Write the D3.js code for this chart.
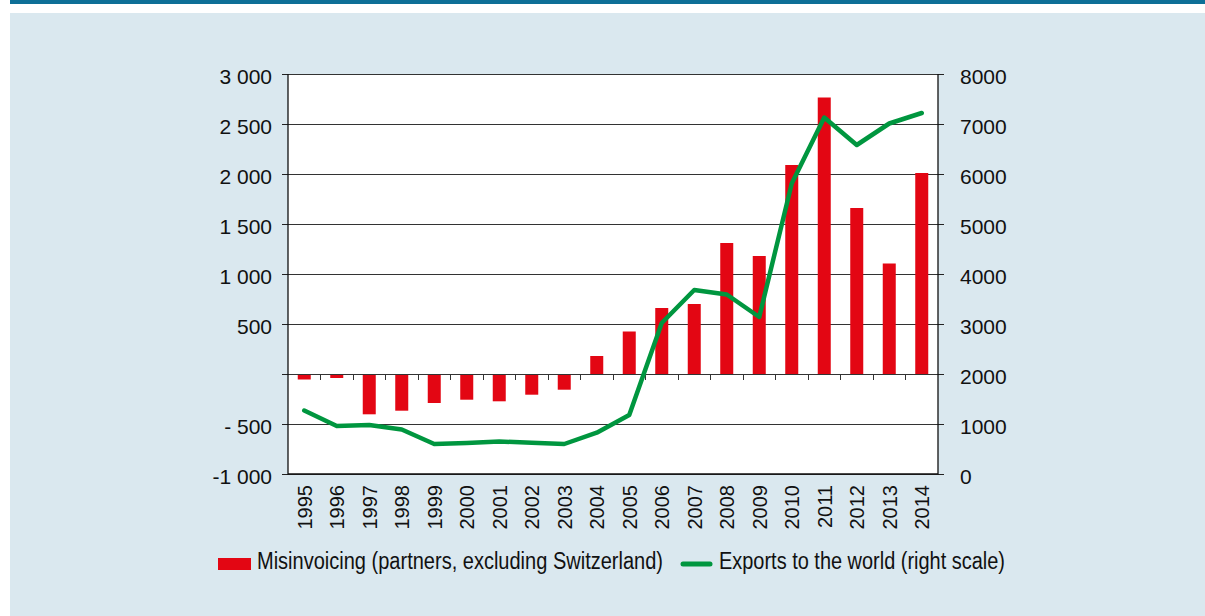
<!DOCTYPE html>
<meta charset="utf-8">
<script src="https://d3js.org/d3.v7.min.js"></script>
<style>
  body { margin: 0; background: #fff; }
  text { font-family: "Liberation Sans", Arial, sans-serif; fill: #111; }
</style>
<div id="chart"></div>
<script>
// data
var years = ["1995","1996","1997","1998","1999","2000","2001","2002","2003","2004",
             "2005","2006","2007","2008","2009","2010","2011","2012","2013","2014"]
var misinvoicing = [-55, -40, -403, -367, -290, -257, -273, -207, -157, 180,
                    425, 660, 700, 1310, 1180, 2090, 2765, 1660, 1105, 2010]
var exportsWorld = [1270, 960, 980, 890, 600, 620, 650, 625, 600, 827,
                    1180, 3020, 3680, 3590, 3140, 5810, 7130, 6580, 7010, 7220]
var leftTicks = [-1000, -500, 0, 500, 1000, 1500, 2000, 2500, 3000]
var leftLabels = ["-1 000", "- 500", "", "500", "1 000", "1 500", "2 000", "2 500", "3 000"]
var rightTicks = [0, 1000, 2000, 3000, 4000, 5000, 6000, 7000, 8000]
var legendLabels = ["Misinvoicing (partners, excluding Switzerland)", "Exports to the world (right scale)"]

var W = 1205, H = 616
var plot = {left: 288, right: 938, top: 74, bottom: 474}
var red = "#e30613", green = "#00963f"

var svg = d3.select("#chart").append("svg")
    .attr("width", W)
    .attr("height", H)

// background panel and top strip
svg.append("rect").attr("x", 10).attr("y", 0).attr("width", W - 10).attr("height", 4).attr("fill", "#0e6f97")
svg.append("rect").attr("x", 10).attr("y", 13).attr("width", W - 10).attr("height", H - 13).attr("fill", "#dae8ef")
svg.append("rect")
    .attr("x", plot.left).attr("y", plot.top)
    .attr("width", plot.right - plot.left).attr("height", plot.bottom - plot.top)
    .attr("fill", "#fff")

var x = d3.scaleBand()
    .domain(years)
    .range([plot.left, plot.right])
    .paddingInner(0.6)
    .paddingOuter(0.3)

var yL = d3.scaleLinear().domain([-1000, 3000]).range([plot.bottom, plot.top])
var yR = d3.scaleLinear().domain([0, 8000]).range([plot.bottom, plot.top])

// gridlines
svg.append("g").selectAll("line")
    .data(leftTicks)
    .join("line")
    .attr("x1", plot.left).attr("x2", plot.right)
    .attr("y1", d => yL(d)).attr("y2", d => yL(d))
    .attr("stroke", "#333")
    .attr("stroke-width", 1)
    .attr("shape-rendering", "crispEdges")

// left axis
var leftAxis = svg.append("g")
    .attr("transform", "translate(" + plot.left + ",0)")
    .call(d3.axisLeft(yL).tickValues(leftTicks).tickSize(6).tickPadding(10)
        .tickFormat((d, i) => leftLabels[i]))
leftAxis.select(".domain").remove()
leftAxis.selectAll("line").attr("stroke", "#222").attr("shape-rendering", "crispEdges")
leftAxis.selectAll("text").attr("font-size", 21).attr("dy", "0.45em")
    .style("font-family", "'Liberation Sans', Arial, sans-serif").attr("fill", "#111")

// right axis
var rightAxis = svg.append("g")
    .attr("transform", "translate(" + plot.right + ",0)")
    .call(d3.axisRight(yR).tickValues(rightTicks).tickSize(6).tickPadding(16)
        .tickFormat(d3.format("d")))
rightAxis.select(".domain").remove()
rightAxis.selectAll("line").attr("stroke", "#222").attr("shape-rendering", "crispEdges")
rightAxis.selectAll("text").attr("font-size", 21).attr("dy", "0.45em")
    .style("font-family", "'Liberation Sans', Arial, sans-serif").attr("fill", "#111")

// bars
svg.append("g").selectAll("rect")
    .data(years)
    .join("rect")
    .attr("x", d => x(d))
    .attr("width", x.bandwidth())
    .attr("y", (d, i) => yL(Math.max(0, misinvoicing[i])))
    .attr("height", (d, i) => Math.abs(yL(misinvoicing[i]) - yL(0)))
    .attr("fill", red)

// zero line with category ticks
svg.append("line")
    .attr("x1", plot.left).attr("x2", plot.right)
    .attr("y1", yL(0)).attr("y2", yL(0))
    .attr("stroke", "#333")
    .attr("shape-rendering", "crispEdges")
svg.append("g").selectAll("line")
    .data(years.slice(1))
    .join("line")
    .attr("x1", d => x(d) - x.bandwidth() * 0.75).attr("x2", d => x(d) - x.bandwidth() * 0.75)
    .attr("y1", yL(0)).attr("y2", yL(0) + 6)
    .attr("stroke", "#333")
    .attr("shape-rendering", "crispEdges")

// plot frame (left, right, bottom)
svg.append("path")
    .attr("d", "M" + plot.left + "," + plot.top + "V" + plot.bottom + "H" + plot.right + "V" + plot.top)
    .attr("fill", "none")
    .attr("stroke", "#111")
    .attr("stroke-width", 1.3)

// exports line
var line = d3.line()
    .x((d, i) => x(years[i]) + x.bandwidth() / 2)
    .y(d => yR(d))
svg.append("path")
    .datum(exportsWorld)
    .attr("d", line)
    .attr("fill", "none")
    .attr("stroke", green)
    .attr("stroke-width", 4.5)
    .attr("stroke-linejoin", "round")
    .attr("stroke-linecap", "round")

// year labels
svg.append("g").selectAll("text")
    .data(years)
    .join("text")
    .attr("transform", d => "translate(" + (x(d) + x.bandwidth() / 2 + 7.5) + "," + (plot.bottom + 11) + ") rotate(-90)")
    .attr("text-anchor", "end")
    .attr("font-size", 20)
    .text(d => d)

// legend
var lg = svg.append("g")
lg.append("rect").attr("x", 218).attr("y", 558).attr("width", 33).attr("height", 12).attr("fill", red)
lg.append("text").attr("x", 257).attr("y", 569).attr("font-size", 23.5)
    .attr("textLength", 406).attr("lengthAdjust", "spacingAndGlyphs")
    .text(legendLabels[0])
lg.append("line").attr("x1", 683).attr("x2", 710).attr("y1", 564).attr("y2", 564)
    .attr("stroke", green).attr("stroke-width", 5).attr("stroke-linecap", "round")
lg.append("text").attr("x", 719).attr("y", 569).attr("font-size", 23.5)
    .attr("textLength", 286).attr("lengthAdjust", "spacingAndGlyphs")
    .text(legendLabels[1])
</script>
